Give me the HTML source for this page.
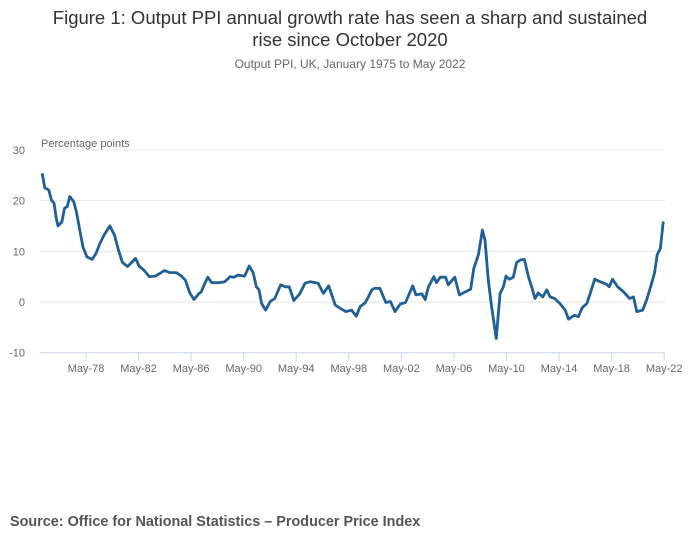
<!DOCTYPE html>
<html><head><meta charset="utf-8"><style>
body{margin:0;background:#fff;font-family:"Liberation Sans",sans-serif;}
#wrap{position:relative;width:700px;height:549px;overflow:hidden}
.t{position:absolute;left:0;width:700px;text-align:center;color:#333}
</style></head><body>
<div id="wrap">
<div class="t" style="top:7px;font-size:18.5px;line-height:22px;">Figure 1: Output PPI annual growth rate has seen a sharp and sustained<br>rise since October 2020</div>
<div class="t" style="top:57px;font-size:12px;color:#666">Output PPI, UK, January 1975 to May 2022</div>
<svg id="chart" width="700" height="549" style="position:absolute;left:0;top:0"></svg>
<div style="position:absolute;left:10px;top:514px;font-size:14.4px;font-weight:bold;color:#555">Source: Office for National Statistics – Producer Price Index</div>
</div>
<script>
const years=[1975.0,1975.2,1975.5,1975.7,1975.9,1976.05,1976.2,1976.5,1976.7,1976.9,1977.1,1977.4,1977.6,1977.9,1978.1,1978.4,1978.8,1979.1,1979.4,1979.7,1979.95,1980.15,1980.5,1980.8,1981.1,1981.5,1981.8,1982.1,1982.4,1982.7,1983.15,1983.6,1984.0,1984.3,1984.7,1985.2,1985.6,1985.9,1986.25,1986.55,1986.9,1987.1,1987.4,1987.6,1987.9,1988.4,1988.9,1989.3,1989.6,1989.9,1990.4,1990.75,1991.05,1991.3,1991.5,1991.7,1992.0,1992.35,1992.7,1993.15,1993.5,1993.8,1994.15,1994.6,1995.0,1995.4,1996.0,1996.4,1996.8,1997.3,1997.65,1998.1,1998.55,1998.9,1999.2,1999.6,2000.1,2000.3,2000.7,2001.15,2001.5,2001.85,2002.25,2002.65,2003.2,2003.45,2003.9,2004.15,2004.4,2004.8,2005.0,2005.3,2005.7,2005.9,2006.4,2006.75,2007.2,2007.6,2007.85,2008.2,2008.5,2008.7,2008.95,2009.2,2009.55,2009.85,2010.1,2010.3,2010.55,2010.85,2011.1,2011.4,2011.7,2012.0,2012.25,2012.5,2012.75,2013.1,2013.4,2013.65,2014.0,2014.4,2014.8,2015.05,2015.5,2015.8,2016.1,2016.45,2016.8,2017.05,2017.45,2017.95,2018.15,2018.4,2018.8,2019.25,2019.7,2020.0,2020.25,2020.7,2021.0,2021.3,2021.6,2021.8,2022.05,2022.25,2022.33];
const values=[25.4,22.5,22.1,20.1,19.5,16.8,15.0,15.8,18.5,18.8,20.8,19.8,17.8,13.6,10.9,8.9,8.4,9.6,11.6,13.2,14.2,15.0,13.2,10.3,7.8,7.0,7.8,8.6,7.0,6.4,5.0,5.1,5.7,6.2,5.8,5.8,5.1,4.3,1.7,0.5,1.6,2.0,3.8,4.9,3.8,3.8,4.0,5.0,4.9,5.3,5.1,7.1,5.8,3.0,2.4,-0.3,-1.6,0.1,0.7,3.4,3.0,3.0,0.3,1.6,3.7,4.0,3.7,1.7,3.2,-0.6,-1.2,-1.9,-1.6,-2.8,-0.9,-0.1,2.4,2.7,2.7,-0.1,0.1,-1.9,-0.4,-0.1,3.2,1.4,1.6,0.5,3.0,5.0,3.8,4.9,4.9,3.4,4.9,1.4,2.0,2.5,6.6,9.3,14.2,12.2,4.3,-0.9,-7.2,1.7,3.0,5.1,4.5,4.9,7.8,8.3,8.4,5.0,3.0,0.7,1.8,1.0,2.4,1.0,0.7,-0.3,-1.6,-3.4,-2.6,-2.9,-1.1,-0.3,2.5,4.5,4.0,3.5,3.0,4.5,3.0,2.0,0.7,1.0,-1.9,-1.6,0.4,3.0,5.7,9.3,10.6,15.6,15.8];
const yTicks=[30,20,10,0,-10];
const xTickYears=[1978,1982,1986,1990,1994,1998,2002,2006,2010,2014,2018,2022];
const NS="http://www.w3.org/2000/svg";
const svg=document.getElementById('chart');
const X0=42.2,PXY=13.14,Y0=302,PXV=5.07;
const xs=y=>X0+(y-1975)*PXY;
const ys=v=>Y0-v*PXV;
function mk(t,a){const e=document.createElementNS(NS,t);for(const k in a)e.setAttribute(k,a[k]);svg.appendChild(e);return e;}
yTicks.forEach(v=>{
  const g=mk('line',{x1:40,x2:665,y1:ys(v),y2:ys(v),stroke:v===-10?'#ccd6eb':'#e6e6e6','stroke-width':1});
  
  
  const t=mk('text',{x:25,y:ys(v)+4,'text-anchor':'end','font-size':11,fill:'#666','font-family':'Liberation Sans, sans-serif'});
  t.textContent=v;
  
  
});
xTickYears.forEach(y=>{
  const x=xs(y+1/3);
  const l=mk('line',{x1:x,x2:x,y1:352,y2:361,stroke:'#ccd6eb'});
  
  
  const t=mk('text',{x:x,y:372,'text-anchor':'middle','font-size':11,fill:'#666','font-family':'Liberation Sans, sans-serif'});
  t.textContent='May-'+String(y).slice(2);
  
  
});
const yt=mk('text',{x:41,y:147,'font-size':11,fill:'#666','font-family':'Liberation Sans, sans-serif'});
yt.textContent='Percentage points';


const d=years.map((y,i)=>(i?'L':'M')+xs(y).toFixed(1)+' '+ys(values[i]).toFixed(1)).join(' ');
const p=mk('path',{d:d,fill:'none',stroke:'#206095','stroke-width':2.8,'stroke-linejoin':'round'});


</script>
</body></html>
